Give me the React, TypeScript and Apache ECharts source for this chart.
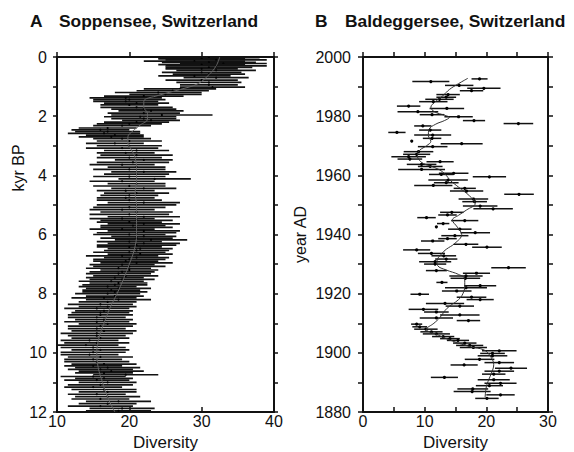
import React, { useEffect, useRef } from "react";
import * as echarts from "echarts";

// ---------- Panel A: Soppensee (kyr BP) ----------
const ageA = [
  0.02, 0.06, 0.10, 0.14, 0.18, 0.22, 0.26, 0.30, 0.35, 0.40,
  0.45, 0.52, 0.58, 0.64, 0.70, 0.78, 0.86, 0.94, 1.02, 1.08,
  1.14, 1.20, 1.26, 1.32, 1.38, 1.44, 1.50, 1.56, 1.62, 1.70,
  1.76, 1.82, 1.90, 1.96, 2.02, 2.08, 2.14, 2.20, 2.26, 2.32,
  2.40, 2.46, 2.52, 2.58, 2.64, 2.70, 2.76, 2.84, 2.92, 3.00,
  3.08, 3.16, 3.24, 3.32, 3.40, 3.48, 3.56, 3.64, 3.72, 3.80,
  3.88, 3.96, 4.04, 4.12, 4.20, 4.28, 4.36, 4.44, 4.52, 4.60,
  4.68, 4.76, 4.84, 4.92, 5.00, 5.08, 5.16, 5.24, 5.32, 5.40,
  5.46, 5.52, 5.58, 5.64, 5.70, 5.76, 5.82, 5.88, 5.94, 6.00,
  6.06, 6.12, 6.18, 6.24, 6.30, 6.36, 6.42, 6.48, 6.54, 6.60,
  6.66, 6.72, 6.78, 6.84, 6.90, 6.96, 7.02, 7.08, 7.14, 7.20,
  7.26, 7.32, 7.40, 7.46, 7.52, 7.58, 7.64, 7.70, 7.76, 7.82,
  7.88, 7.94, 8.00, 8.08, 8.14, 8.20, 8.28, 8.36, 8.44, 8.50,
  8.58, 8.64, 8.72, 8.80, 8.88, 8.95, 9.02, 9.10, 9.18, 9.26,
  9.34, 9.42, 9.50, 9.58, 9.66, 9.74, 9.82, 9.90, 9.98, 10.06,
  10.14, 10.22, 10.30, 10.38, 10.44, 10.50, 10.56, 10.62, 10.68, 10.74,
  10.80, 10.86, 10.92, 11.00, 11.08, 11.16, 11.24, 11.32, 11.40, 11.48,
  11.56, 11.64, 11.72, 11.80, 11.88, 11.96,
];
const divA = [
  31, 30, 32, 29, 31, 33, 30, 32, 31, 30,
  32, 30, 31, 29, 32, 30, 31, 31, 31.5, 27,
  26, 24, 25, 22, 19.5, 20, 19.5, 21, 20, 21,
  22, 23, 22, 24.5, 21.5, 22, 23, 21, 20, 19,
  17, 16, 17, 16.5, 18, 17.5, 19, 20, 18, 20,
  19, 21, 19.5, 21, 20, 22, 20.5, 19, 21, 20,
  22, 21, 20, 23.5, 19, 21, 20, 22, 19.5, 21,
  20, 19.5, 20, 22, 21, 20, 19, 21, 20, 22,
  19, 21, 20, 22, 20.5, 21, 19, 22, 21, 20,
  22, 21, 23, 20, 22, 21, 20, 21.5, 21, 20,
  21.5, 19, 21, 20, 19.5, 21, 19, 20, 18.5, 20,
  19, 18.5, 19.5, 18, 19, 17.5, 18.5, 18, 17, 18.5,
  17.5, 18, 17, 18, 16.5, 18.5, 17, 16, 17, 15.5,
  16.5, 16, 16, 15.5, 16.5, 15.5, 17, 16, 15.5, 16.5,
  15.5, 15.5, 16, 14.5, 15.5, 14, 15, 16, 15, 14.5,
  16, 15, 15.5, 16.5, 15, 17, 16, 17.5, 16.5, 19.5,
  15, 16.5, 15.5, 17, 16, 15, 16.5, 17, 15.5, 17,
  16, 18.5, 17, 16, 19, 18.5,
];
const errA = [
  7, 6, 7, 7, 6.5, 6, 6, 7, 6, 5,
  5.5, 5.5, 5, 5, 4.5, 5, 4.5, 4, 4.5, 5,
  5, 6, 5, 5.5, 5, 5, 4.5, 4.5, 4, 5,
  4.5, 4.5, 5, 7, 5, 4.5, 4, 4.5, 4.5, 4,
  4, 4, 4.5, 5, 4, 4.5, 4, 4.5, 4, 4.5,
  5, 4.5, 4, 5, 4.5, 4, 5, 4.5, 4, 5,
  4.5, 4.5, 5, 5, 4.5, 4, 5, 4.5, 4, 4.5,
  4, 4, 4.5, 5, 5.5, 5, 4.5, 5, 5.5, 5,
  4.5, 5, 4.5, 5, 4.5, 5, 4.5, 5, 5.5, 5,
  4.5, 5, 5, 4.5, 5, 5.5, 4.5, 4.5, 4.5, 5,
  4.5, 5, 4.5, 5, 4.5, 5, 4.5, 5, 4.5, 4,
  4.5, 4.5, 4.5, 4, 4.5, 4.5, 4, 4.5, 4, 4.5,
  4, 4.5, 4.5, 4, 4.5, 4.5, 4, 4.5, 4, 4.5,
  4, 4, 4.5, 4, 4, 4.5, 4, 4.5, 4, 4.5,
  5, 4, 4, 4, 4.5, 4.5, 4.5, 4, 4.5, 4,
  4.5, 4, 4.5, 4.5, 4, 4.5, 4.5, 4.5, 4, 4.5,
  4.5, 4, 4.5, 4, 4.5, 4, 4.5, 4, 4, 4.5,
  4, 4.5, 4, 4.5, 4.5, 4.5,
];
const trendAgeA = [0, 0.3, 0.6, 0.9, 1.1, 1.3, 1.5, 1.7, 1.9, 2.1, 2.3, 2.5, 2.7, 2.9, 3.1, 3.4, 3.8, 4.2, 4.6, 5.0, 5.5, 6.0, 6.5, 7.0, 7.5, 8.0, 8.5, 9.0, 9.5, 10.0, 10.5, 11.0, 11.5, 12.0];
const trendDivA = [32.5, 32, 31, 29.5, 27, 24, 22, 22, 22.5, 22.5, 21.5, 20.5, 19.8, 19.8, 20.2, 20.8, 21, 21, 20.8, 21, 21, 21, 20.7, 20, 19.2, 18.3, 17.3, 16.5, 15.8, 15.5, 15.7, 16.3, 17, 18];

// ---------- Panel B: Baldeggersee (year AD) ----------
const yearB = [
  1992.6, 1991.7, 1990.4, 1989.4, 1988.6, 1987.3, 1986.4, 1985.7, 1984.9, 1983.4,
  1982.6, 1981.5, 1980.5, 1979.8, 1978.5, 1977.5, 1976.7, 1975.3, 1974.5, 1973.6,
  1972.5, 1971.6, 1970.7, 1969.7, 1968.0, 1967.1, 1966.3, 1965.5, 1964.6, 1963.7,
  1963.0, 1962.0, 1960.7, 1960.3, 1959.5, 1958.4, 1957.5, 1956.6, 1955.6, 1954.7,
  1953.6, 1952.0, 1951.1, 1949.6, 1948.7, 1947.5, 1946.6, 1945.7, 1944.7, 1943.7,
  1942.6, 1941.8, 1940.6, 1939.6, 1938.6, 1937.8, 1936.7, 1935.7, 1934.8, 1933.6,
  1932.8, 1931.7, 1930.8, 1930.0, 1928.8, 1927.8, 1926.9, 1926.0, 1925.2, 1923.8,
  1922.7, 1922.0, 1920.9, 1919.8, 1918.8, 1918.0, 1916.7, 1915.8, 1914.7, 1913.8,
  1912.8, 1911.8, 1910.9, 1909.7, 1908.8, 1908.0, 1907.1, 1906.4, 1905.5, 1904.8,
  1904.2, 1903.3, 1902.5, 1901.8, 1900.7, 1899.8, 1899.0, 1897.8, 1896.7, 1895.9,
  1894.8, 1893.8, 1892.8, 1891.7, 1890.9, 1889.7, 1888.9, 1887.8, 1886.9, 1885.8,
  1884.6,
];
const divB = [
  18.9, 11.0, 15.6, 19.6, 17.6, 13.8, 13.5, 12.4, 11.4, 7.4,
  13.6, 8.9, 11.2, 15.5, 18.0, 25.2, 9.7, 10.9, 5.5, 11.3,
  11.2, 7.9, 16.0, 11.3, 9.0, 8.7, 7.4, 7.6, 12.5, 9.5,
  10.9, 9.5, 14.7, 12.7, 20.5, 13.8, 13.5, 11.4, 16.5, 16.8,
  25.3, 17.9, 18.1, 19.0, 21.1, 14.4, 13.7, 10.3, 16.5, 13.0,
  11.9, 15.7, 18.2, 14.9, 13.7, 11.3, 16.7, 20.1, 8.7, 11.1,
  13.1, 13.5, 11.7, 11.7, 23.6, 11.9, 18.4, 16.7, 16.6, 12.8,
  19.0, 16.7, 15.2, 9.2, 17.6, 19.0, 13.3, 15.7, 9.8, 11.9,
  15.7, 11.9, 17.1, 8.7, 9.2, 10.2, 11.1, 11.9, 13.0, 14.1,
  15.4, 16.5, 17.3, 17.9, 22.1, 21.0, 21.0, 18.9, 22.1, 16.4,
  24.0, 22.1, 21.2, 13.2, 21.2, 22.3, 20.5, 17.8, 17.7, 22.3,
  20.1,
];
const errB = [
  1.3, 3.0, 2.3, 2.7, 1.9, 1.9, 1.6, 2.3, 2.3, 1.9,
  2.8, 3.3, 2.0, 2.3, 1.8, 2.4, 1.4, 1.8, 1.4, 3.0,
  1.5, 0, 3.4, 2.4, 2.4, 2.2, 2.8, 2.0, 2.2, 2.4,
  2.0, 3.8, 2.4, 2.0, 2.7, 3.2, 2.0, 3.1, 1.8, 2.7,
  2.4, 2.4, 2.0, 2.8, 3.2, 1.9, 1.5, 1.5, 2.2, 1.0,
  0, 1.9, 2.4, 2.2, 1.5, 1.9, 2.0, 2.4, 2.2, 2.2,
  2.0, 1.8, 2.6, 1.8, 2.8, 1.7, 2.2, 2.7, 2.4, 0.9,
  2.6, 3.4, 2.4, 1.5, 2.4, 2.2, 3.1, 2.3, 2.4, 2.0,
  3.2, 2.7, 1.9, 0.9, 1.2, 1.9, 1.8, 2.2, 1.8, 1.6,
  1.8, 1.9, 2.2, 2.2, 2.8, 2.0, 2.4, 2.4, 2.4, 2.2,
  2.6, 2.4, 1.9, 2.2, 2.6, 2.6, 2.2, 2.5, 3.0, 2.3,
  1.9,
];
const trendYearB = [1992.8, 1991, 1989, 1987, 1985, 1983, 1981.5, 1980.3, 1979.6, 1978.5, 1977.3, 1975.5, 1973.5, 1971.5, 1970, 1968.5, 1967, 1965.5, 1964, 1962, 1960, 1958.4, 1956, 1953, 1950.5, 1948.3, 1946.5, 1944.9, 1942.5, 1940, 1937, 1935, 1933.6, 1931, 1929.5, 1928, 1926.5, 1925, 1922.5, 1920, 1918, 1915, 1912, 1910, 1908, 1906, 1904, 1902, 1901, 1899, 1896, 1893, 1891, 1888.5, 1885];
const trendDivB = [17, 15.5, 14, 13, 11.8, 11, 11.6, 13.2, 14, 13.2, 11.8, 10.7, 10.6, 11, 10.3, 9.2, 8.8, 9.0, 9.8, 12.3, 13.5, 14.1, 15.5, 17.3, 18.2, 16.8, 15.5, 14.5, 15.3, 16, 14.9, 13.5, 12.8, 12, 12.1, 13.5, 15.5, 16.5, 16.5, 16.2, 15.5, 13.6, 12.5, 11.5, 10.3, 12.2, 14.5, 17.5, 19.6, 20.6, 21.2, 20.8, 20.4, 20, 19.8];

const FONT = "'Liberation Sans', Arial, Helvetica, sans-serif";
const INK = "#111";

function errorSeries(xIdx: number, yIdx: number, ys: number[], xs: number[], es: number[], lw: number, r: number) {
  return {
    type: "custom",
    xAxisIndex: xIdx,
    yAxisIndex: yIdx,
    clip: true,
    data: ys.map((y, i) => [xs[i] - es[i], xs[i] + es[i], y, xs[i]]),
    encode: { x: [0, 1, 3], y: 2 },
    renderItem: (_p: any, api: any) => {
      const y = api.value(2);
      const a = api.coord([api.value(0), y]);
      const b = api.coord([api.value(1), y]);
      const c = api.coord([api.value(3), y]);
      return {
        type: "group",
        children: [
          { type: "line", shape: { x1: a[0], y1: a[1], x2: b[0], y2: b[1] }, style: { stroke: "#121212", lineWidth: lw } },
          { type: "circle", shape: { cx: c[0], cy: c[1], r }, style: { fill: "#000" } },
        ],
      };
    },
  };
}

const axisLine = { show: true, onZero: false, lineStyle: { color: INK, width: 2 } };
const tickStyle = { color: INK, width: 1.5 };
const plain = (v: number) => String(v);

export default function App() {
  const ref = useRef<HTMLDivElement>(null);
  useEffect(() => {
    if (!ref.current) return;
    const chart = echarts.init(ref.current, undefined, { renderer: "svg" });
    const labelStyle = { color: INK, fontSize: 16, fontFamily: FONT, formatter: plain };
    const nameStyle = { color: INK, fontSize: 16, fontFamily: FONT };
    chart.setOption({
      animation: false,
      backgroundColor: "#fff",
      grid: [
        { left: 57, top: 57, width: 217, height: 355, containLabel: false, outerBoundsMode: "none" },
        { left: 363, top: 57, width: 185, height: 355, containLabel: false, outerBoundsMode: "none" },
      ],
      graphic: [
        { type: "text", x: 30, y: 21, style: { text: "A", font: `bold 17.4px ${FONT}`, fill: INK, verticalAlign: "middle" } },
        { type: "text", x: 59, y: 21, style: { text: "Soppensee, Switzerland", font: `bold 17.4px ${FONT}`, fill: INK, verticalAlign: "middle" } },
        { type: "text", x: 315, y: 21, style: { text: "B", font: `bold 17.4px ${FONT}`, fill: INK, verticalAlign: "middle" } },
        { type: "text", x: 345, y: 21, style: { text: "Baldeggersee, Switzerland", font: `bold 17.4px ${FONT}`, fill: INK, verticalAlign: "middle" } },
        { type: "text", x: 18, y: 168, rotation: Math.PI / 2, style: { text: "kyr BP", font: `16px ${FONT}`, fill: INK, align: "center", verticalAlign: "middle" } },
      ],
      xAxis: [
        {
          gridIndex: 0, type: "value", position: "bottom", min: 10, max: 40, interval: 10,
          axisLine, axisTick: { show: true, inside: true, length: 5, lineStyle: tickStyle },
          axisLabel: { ...labelStyle, margin: 1 }, splitLine: { show: false },
          name: "Diversity", nameLocation: "middle", nameGap: 22, nameTextStyle: { ...nameStyle, fontSize: 17, verticalAlign: "top" },
        },
        {
          gridIndex: 0, type: "value", position: "top", min: 10, max: 40, interval: 10,
          axisLine, axisTick: { show: true, inside: false, length: 5, lineStyle: tickStyle },
          axisLabel: { show: false }, splitLine: { show: false },
        },
        {
          gridIndex: 1, type: "value", position: "bottom", min: 0, max: 30, interval: 10,
          axisLine, axisTick: { show: true, inside: true, length: 5, lineStyle: tickStyle },
          minorTick: { show: true, splitNumber: 2, length: 5, lineStyle: tickStyle },
          axisLabel: { ...labelStyle, margin: 1 }, splitLine: { show: false }, minorSplitLine: { show: false },
          name: "Diversity", nameLocation: "middle", nameGap: 22, nameTextStyle: { ...nameStyle, fontSize: 17, verticalAlign: "top" },
        },
        {
          gridIndex: 1, type: "value", position: "top", min: 0, max: 30, interval: 5,
          axisLine, axisTick: { show: true, inside: false, length: 5, lineStyle: tickStyle },
          axisLabel: { show: false }, splitLine: { show: false },
        },
      ],
      yAxis: [
        {
          gridIndex: 0, type: "value", position: "left", min: 0, max: 12, interval: 2, inverse: true,
          axisLine, axisTick: { show: true, inside: false, length: 4, lineStyle: tickStyle },
          minorTick: { show: true, splitNumber: 2, length: 4, lineStyle: tickStyle },
          axisLabel: { ...labelStyle, margin: 10 }, splitLine: { show: false }, minorSplitLine: { show: false },
        },
        {
          gridIndex: 0, type: "value", position: "right", min: 0, max: 12, interval: 1, inverse: true,
          axisLine, axisTick: { show: true, inside: false, length: 4, lineStyle: tickStyle },
          axisLabel: { show: false }, splitLine: { show: false },
        },
        {
          gridIndex: 1, type: "value", position: "left", min: 1880, max: 2000, interval: 20,
          axisLine, axisTick: { show: true, inside: false, length: 5, lineStyle: tickStyle },
          minorTick: { show: true, splitNumber: 2, length: 5, lineStyle: tickStyle },
          axisLabel: { ...labelStyle, margin: 12 }, splitLine: { show: false }, minorSplitLine: { show: false },
          name: "year AD", nameLocation: "middle", nameGap: 55, nameTextStyle: nameStyle,
        },
        {
          gridIndex: 1, type: "value", position: "right", min: 1880, max: 2000, interval: 10,
          axisLine, axisTick: { show: true, inside: false, length: 5, lineStyle: tickStyle },
          axisLabel: { show: false }, splitLine: { show: false },
        },
      ],
      series: [
        errorSeries(0, 0, ageA, divA, errA, 1.7, 1.1),
        {
          type: "line", xAxisIndex: 0, yAxisIndex: 0, smooth: 0.4, symbol: "none",
          data: trendAgeA.map((a, i) => [trendDivA[i], a]),
          lineStyle: { color: "#666", width: 1 }, z: 5,
        },
        errorSeries(2, 2, yearB, divB, errB, 1.5, 1.6),
        {
          type: "line", xAxisIndex: 2, yAxisIndex: 2, smooth: 0.4, symbol: "none",
          data: trendYearB.map((y, i) => [trendDivB[i], y]),
          lineStyle: { color: "#333", width: 1 }, z: 5,
        },
      ],
    });
    return () => chart.dispose();
  }, []);
  return <div ref={ref} style={{ position: "fixed", left: 0, top: 0, width: 574, height: 452 }} />;
}
